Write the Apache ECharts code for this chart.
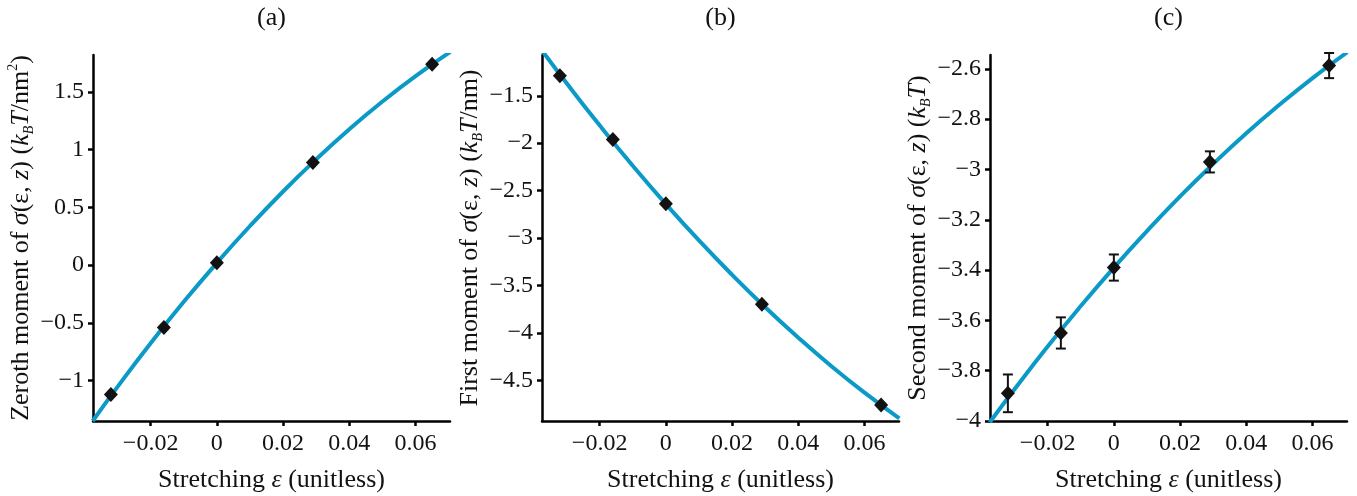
<!DOCTYPE html>
<html>
<head>
<meta charset="utf-8">
<script src="https://cdn.jsdelivr.net/npm/echarts@6/dist/echarts.min.js"></script>
<style>html,body{margin:0;padding:0;background:#fff}#c{width:1357px;height:496px}</style>
</head>
<body>
<div id="c"></div>
<script>
// ---- data ----
const strain = [-0.032, -0.016, 0, 0.029, 0.065];
const zerothMoment = [-1.12, -0.54, 0.02, 0.89, 1.74];
const firstMoment = [-1.29, -1.96, -2.64, -3.70, -4.76];
const secondMoment = [-3.89, -3.65, -3.39, -2.97, -2.587];
const secondErr = [0.075, 0.062, 0.052, 0.042, 0.05];

const fitStrain = [-0.0375, -0.03, -0.02, -0.01, 0, 0.01, 0.02, 0.03, 0.04, 0.05, 0.06, 0.0705];
const fitZeroth = [-1.35, -1.054, -0.676, -0.318, 0.02, 0.339, 0.638, 0.917, 1.177, 1.417, 1.637, 1.847];
const fitFirst = [-1.018, -1.366, -1.812, -2.238, -2.642, -3.026, -3.388, -3.730, -4.051, -4.352, -4.631, -4.903];
const fitSecond = [-4.006, -3.874, -3.704, -3.543, -3.39, -3.245, -3.107, -2.978, -2.856, -2.743, -2.637, -2.534];

const xTicks = [-0.02, 0, 0.02, 0.04, 0.06];
const yTicksA = [-1, -0.5, 0, 0.5, 1, 1.5];
const yTicksB = [-4.5, -4, -3.5, -3, -2.5, -2, -1.5];
const yTicksC = [-4, -3.8, -3.6, -3.4, -3.2, -3, -2.8, -2.6];
const panelTitles = ['(a)', '(b)', '(c)'];

// ---- styling ----
const FONT = '"Liberation Serif", "DejaVu Serif", serif';
const INK = '#141112';
const CURVE = '#0b9ac8';
const fmt = v => { const s = String(Math.round(v * 1000) / 1000); return v < 0 ? '\u2212' + s.slice(1) : s; };

const richStyles = {
  i: { fontStyle: 'italic', fontFamily: FONT, fontSize: 26, color: INK, lineHeight: 30 },
  sub: { fontStyle: 'italic', fontFamily: FONT, fontSize: 14, color: INK, lineHeight: 14, verticalAlign: 'bottom' },
  sup: { fontFamily: FONT, fontSize: 14, color: INK, lineHeight: 14, verticalAlign: 'top' }
};

const grids = [
  { left: 93, top: 55, width: 357, height: 366, outerBoundsMode: 'none', containLabel: false },
  { left: 542, top: 55, width: 357, height: 366, outerBoundsMode: 'none', containLabel: false },
  { left: 990, top: 55, width: 357, height: 366, outerBoundsMode: 'none', containLabel: false }
];

function xAxisFor(idx) {
  return {
    type: 'value', gridIndex: idx, min: -0.0374, max: 0.0704,
    name: 'Stretching {i|ε} (unitless)', nameLocation: 'middle', nameGap: 44,
    nameTextStyle: { fontFamily: FONT, fontSize: 26, color: INK, lineHeight: 30, rich: richStyles },
    axisLine: { show: true, onZero: false, lineStyle: { color: '#000', width: 2.5 } },
    axisTick: { show: true, length: 5, inside: false, customValues: xTicks, lineStyle: { color: '#000', width: 2.5 } },
    axisLabel: { customValues: xTicks, formatter: fmt, fontFamily: FONT, fontSize: 24, color: INK, margin: 11 },
    splitLine: { show: false }
  };
}
function yAxisFor(idx, min, max, ticks, name, gap) {
  return {
    type: 'value', gridIndex: idx, min: min, max: max,
    name: name, nameLocation: 'middle', nameRotate: 90, nameGap: gap,
    nameTextStyle: { fontFamily: FONT, fontSize: 26, color: INK, lineHeight: 30, rich: richStyles },
    axisLine: { show: true, onZero: false, lineStyle: { color: '#000', width: 2.5 } },
    axisTick: { show: true, length: 5, inside: false, customValues: ticks, lineStyle: { color: '#000', width: 2.5 } },
    axisLabel: { customValues: ticks, formatter: fmt, fontFamily: FONT, fontSize: 24, color: INK, margin: 9 },
    splitLine: { show: false }
  };
}

const zip = (a, b) => a.map((v, i) => [v, b[i]]);

function fitSeries(idx, ys) {
  return { type: 'line', xAxisIndex: idx, yAxisIndex: idx, data: zip(fitStrain, ys), smooth: true,
    showSymbol: false, clip: true, lineStyle: { color: CURVE, width: 4 }, z: 2, silent: true };
}
function pointSeries(idx, ys) {
  return { type: 'scatter', xAxisIndex: idx, yAxisIndex: idx, data: zip(strain, ys), symbol: 'diamond',
    symbolSize: [14, 15], itemStyle: { color: INK, opacity: 1 }, z: 5 };
}

const errSeries = {
  type: 'custom', xAxisIndex: 2, yAxisIndex: 2, z: 4,
  data: strain.map((x, i) => [x, secondMoment[i], secondErr[i]]),
  renderItem: function (params, api) {
    const x = api.value(0), y = api.value(1), e = api.value(2);
    const top = api.coord([x, y + e]);
    const bot = api.coord([x, y - e]);
    const w = 5;
    const st = { stroke: INK, lineWidth: 2 };
    return { type: 'group', children: [
      { type: 'line', shape: { x1: top[0], y1: top[1], x2: bot[0], y2: bot[1] }, style: st },
      { type: 'line', shape: { x1: top[0] - w, y1: top[1], x2: top[0] + w, y2: top[1] }, style: st },
      { type: 'line', shape: { x1: bot[0] - w, y1: bot[1], x2: bot[0] + w, y2: bot[1] }, style: st }
    ] };
  }
};

const chart = echarts.init(document.getElementById('c'), null, { renderer: 'canvas' });
chart.setOption({
  animation: false,
  backgroundColor: '#fff',
  grid: grids,
  xAxis: [xAxisFor(0), xAxisFor(1), xAxisFor(2)],
  yAxis: [
    yAxisFor(0, -1.35, 1.82, yTicksA, 'Zeroth moment of {i|σ}(ε, {i|z}) ({i|k}{sub|B}{i|T}/nm{sup|2})', 50),
    yAxisFor(1, -4.93, -1.07, yTicksB, 'First moment of {i|σ}(ε, {i|z}) ({i|k}{sub|B}{i|T}/nm)', 53),
    yAxisFor(2, -4.0, -2.545, yTicksC, 'Second moment of {i|σ}(ε, {i|z}) ({i|k}{sub|B}{i|T})', 57)
  ],
  graphic: grids.map((g, i) => ({
    type: 'text', x: g.left + g.width / 2, y: 18,
    style: { text: panelTitles[i], align: 'center', verticalAlign: 'middle', font: '26px ' + FONT, fill: INK }
  })),
  series: [
    fitSeries(0, fitZeroth), pointSeries(0, zerothMoment),
    fitSeries(1, fitFirst), pointSeries(1, firstMoment),
    fitSeries(2, fitSecond), errSeries, pointSeries(2, secondMoment)
  ]
});
</script>
</body>
</html>
